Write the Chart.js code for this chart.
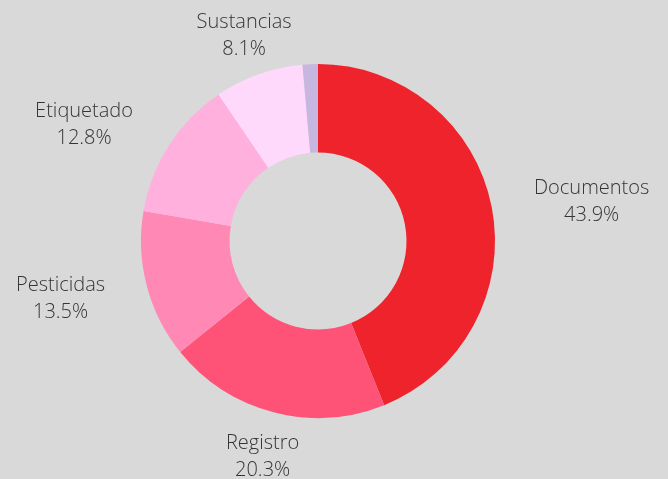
<!DOCTYPE html>
<html>
<head>
<meta charset="utf-8">
<script src="https://cdn.jsdelivr.net/npm/chart.js@4"></script>
<style>
  html, body { margin: 0; padding: 0; background: #d9d9d9; }
  #wrap { width: 668px; height: 479px; }
</style>
</head>
<body>
<div id="wrap"><canvas id="c" width="668" height="479"></canvas></div>
<script>
const categories = ["Documentos", "Registro", "Pesticidas", "Etiquetado", "Sustancias", "Otros"];
const values = [43.9, 20.3, 13.5, 12.8, 8.1, 1.4];
const showLabel = [true, true, true, true, true, false];
const colors = ["#ee232b", "#ff5277", "#ff88b4", "#ffb0dd", "#ffd9fc", "#c6b6e0"];

const outsideLabels = {
  id: 'outsideLabels',
  afterDatasetsDraw(chart) {
    const ctx = chart.ctx;
    const meta = chart.getDatasetMeta(0);
    const total = values.reduce((a, b) => a + b, 0);
    ctx.save();
    ctx.font = '300 20px "Open Sans"';
    ctx.fillStyle = '#353535';
    ctx.textBaseline = 'middle';
    const lineH = 27;
    meta.data.forEach((arc, i) => {
      if (!showLabel[i]) return;
      const p = arc.getProps(['x', 'y', 'startAngle', 'endAngle', 'outerRadius'], true);
      const mid = (p.startAngle + p.endAngle) / 2;
      const dx = Math.cos(mid), dy = Math.sin(mid);
      const r = p.outerRadius + 43;
      const ax = p.x + dx * r;
      const ay = p.y + dy * r + 2.5;
      const lines = [categories[i], (values[i] / total * 100).toFixed(1) + '%'];
      const w = Math.max(...lines.map(l => ctx.measureText(l).width));
      let cx = ax;
      if (dx > 0.5) cx = ax + w / 2;
      else if (dx < -0.5) cx = ax - w / 2;
      ctx.textAlign = 'center';
      lines.forEach((l, k) => {
        ctx.fillText(l, cx, ay + (k - (lines.length - 1) / 2) * lineH);
      });
    });
    ctx.restore();
  }
};

new Chart(document.getElementById('c'), {
  type: 'doughnut',
  data: {
    labels: categories,
    datasets: [{
      data: values,
      backgroundColor: colors,
      borderWidth: 0
    }]
  },
  options: {
    responsive: false,
    animation: false,
    cutout: '50%',
    layout: { padding: { top: 64, bottom: 61, left: 100, right: 132 } },
    plugins: {
      legend: { display: false },
      tooltip: { enabled: false }
    }
  },
  plugins: [outsideLabels]
});
</script>
</body>
</html>
